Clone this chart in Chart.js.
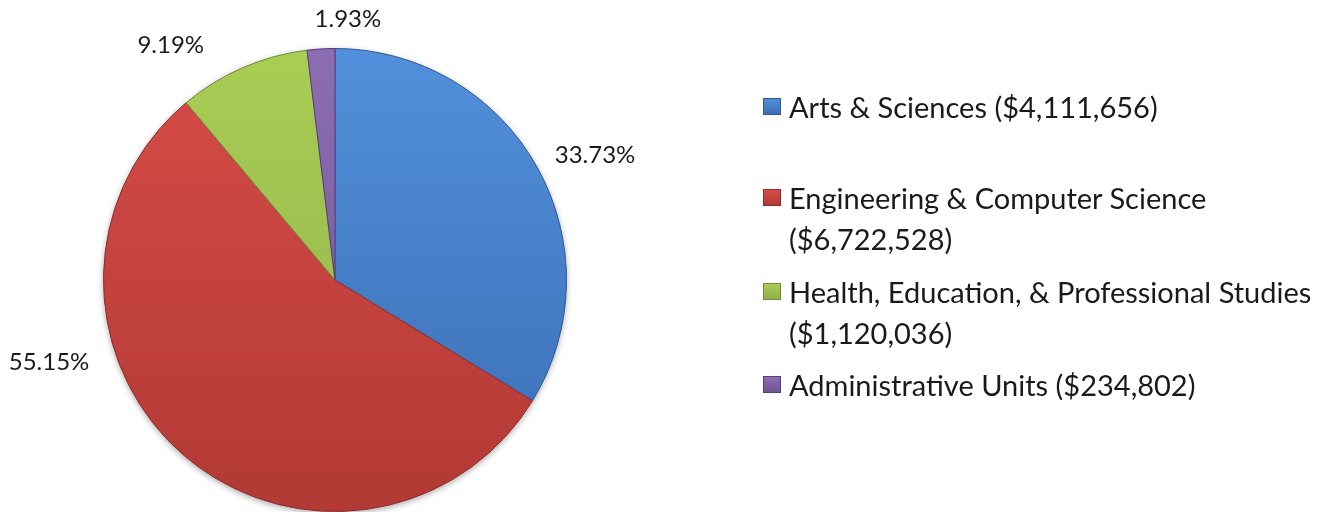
<!DOCTYPE html>
<html>
<head>
<meta charset="utf-8">
<script src="https://cdn.jsdelivr.net/npm/chart.js@4/dist/chart.umd.min.js"></script>
<style>
  html, body { margin: 0; padding: 0; background: #fff; }
  .wrap { position: relative; width: 1341px; height: 512px; overflow: hidden; }
  #legend { position: absolute; left: 763px; top: 0; width: 578px; font-family: Lato, "Open Sans", sans-serif; font-size: 29px; color: #1a1a1a; }
  .item { position: absolute; left: 0; display: flex; align-items: flex-start; width: 575px; line-height: 41px; }
  .box { width: 18px; height: 17px; margin-top: 12px; margin-right: 8px; flex: none; box-sizing: border-box; }
  .txt { width: 545px; }
  .txt span { white-space: nowrap; }
</style>
</head>
<body>
<div class="wrap">
  <canvas id="myChart1" width="1341" height="512"></canvas>
  <div id="legend"></div>
</div>
<script>
// data
const categories = ['Arts & Sciences', 'Engineering & Computer Science', 'Health, Education, & Professional Studies', 'Administrative Units'];
const amounts = [4111656, 6722528, 1120036, 234802];
const topColors = ['#5290DB', '#D64C48', '#AACD55', '#8D6DB3'];
const bottomColors = ['#3A6DB3', '#B23935', '#8FB04A', '#6D5491'];
const edgeColors = ['#2F5C98', '#8E2E2B', '#728C3A', '#55407A'];

// label placement tweaks: [angle shift in degrees, distance past the rim]
const labelNudge = [[3.6, 57], [33.3, 66], [-11.5, 55], [6.3, 30]];
const legendTops = [86, 177, 271, 364];

const total = amounts.reduce((a, b) => a + b, 0);
const fmt = n => '$' + n.toLocaleString('en-US');

function sliceFill(ctx) {
  const chart = ctx.chart;
  const area = chart.chartArea;
  if (!area) return topColors[ctx.dataIndex];
  const g = chart.ctx.createLinearGradient(0, area.top, 0, area.bottom);
  g.addColorStop(0, topColors[ctx.dataIndex]);
  g.addColorStop(1, bottomColors[ctx.dataIndex]);
  return g;
}

const pctLabels = {
  id: 'pctLabels',
  afterDatasetsDraw(chart) {
    const c = chart.ctx;
    const meta = chart.getDatasetMeta(0);
    c.save();
    c.font = '24px Lato, "Open Sans", sans-serif';
    c.fillStyle = '#1a1a1a';
    c.textAlign = 'center';
    c.textBaseline = 'middle';
    meta.data.forEach((arc, i) => {
      const mid = (arc.startAngle + arc.endAngle) / 2 + labelNudge[i][0] * Math.PI / 180;
      const d = arc.outerRadius + labelNudge[i][1];
      const x = arc.x + Math.cos(mid) * d;
      const y = arc.y + Math.sin(mid) * d;
      c.fillText((amounts[i] / total * 100).toFixed(2) + '%', x, y);
    });
    c.restore();
  }
};

const rimShadow = {
  id: 'rimShadow',
  beforeDatasetsDraw(chart) {
    const arc = chart.getDatasetMeta(0).data[0];
    if (!arc) return;
    const c = chart.ctx;
    c.save();
    c.shadowColor = 'rgba(0,0,0,0.35)';
    c.shadowBlur = 6;
    c.shadowOffsetY = 2;
    c.beginPath();
    c.arc(arc.x, arc.y, arc.outerRadius, 0, Math.PI * 2);
    c.fillStyle = '#999';
    c.fill();
    c.restore();
  }
};

const ctx = document.getElementById('myChart1');
const config = {
  type: 'pie',
  data: {
    labels: categories,
    datasets: [{
      data: amounts,
      backgroundColor: sliceFill,
      borderColor: edgeColors,
      borderWidth: 1
    }]
  },
  options: {
    responsive: false,
    animation: false,
    layout: { padding: { left: 103, right: 774, top: 48, bottom: 0 } },
    plugins: {
      legend: { display: false },
      tooltip: { enabled: false }
    }
  },
  plugins: [rimShadow, pctLabels]
};
const myChart = new Chart(ctx, config);

// legend
const legend = document.getElementById('legend');
categories.forEach((name, i) => {
  const item = document.createElement('div');
  item.className = 'item';
  item.style.top = legendTops[i] + 'px';
  const box = document.createElement('div');
  box.className = 'box';
  box.style.background = 'linear-gradient(' + topColors[i] + ', ' + bottomColors[i] + ')';
  box.style.border = '1px solid ' + edgeColors[i];
  const txt = document.createElement('div');
  txt.className = 'txt';
  txt.innerHTML = '<span></span> <span></span>';
  txt.children[0].textContent = name;
  txt.children[1].textContent = '(' + fmt(amounts[i]) + ')';
  item.appendChild(box);
  item.appendChild(txt);
  legend.appendChild(item);
});
</script>
</body>
</html>
